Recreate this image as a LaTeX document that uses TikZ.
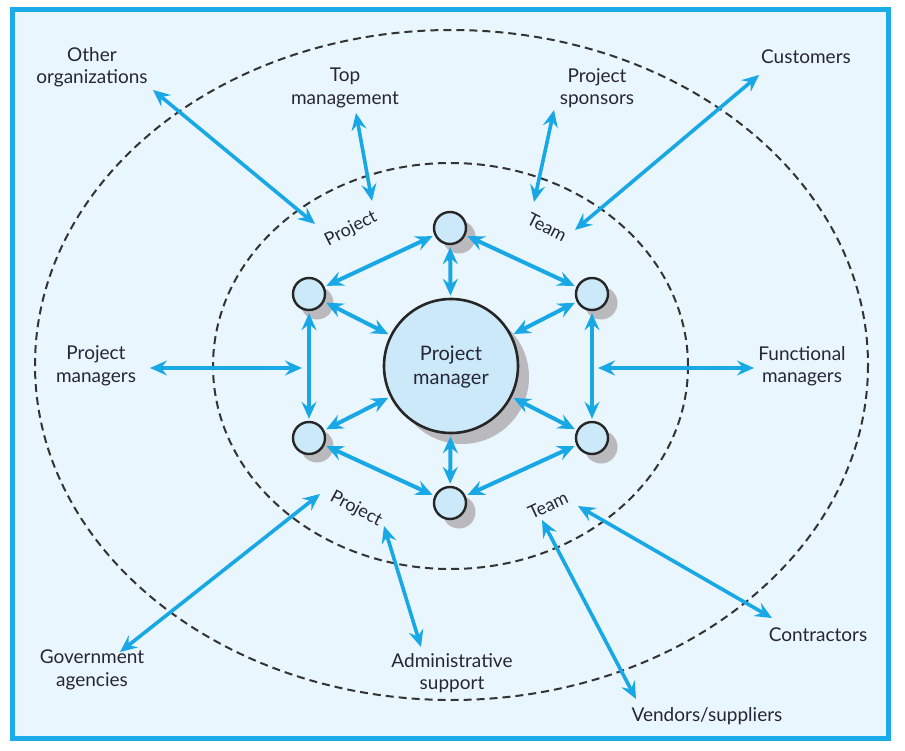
\documentclass[tikz,border=0pt]{standalone}
\usepackage{fontspec}
\setmainfont{Lato}
\usetikzlibrary{arrows.meta}
\definecolor{frameblue}{HTML}{1AABE8}
\definecolor{arrowblue}{HTML}{19A8E6}
\definecolor{bgblue}{HTML}{EAF6FD}
\definecolor{circfill}{HTML}{CBE9F9}
\definecolor{shadowgray}{HTML}{B9B9BE}
\definecolor{txt}{HTML}{262636}
\tikzset{
  arr/.style={draw=arrowblue, line width=4pt,
    {Stealth[length=17pt,width=15pt,inset=6pt]}-{Stealth[length=17pt,width=15pt,inset=6pt]},
    shorten <=2pt, shorten >=2pt},
  dash ring/.style={draw=black!80, line width=2pt, dash pattern=on 8pt off 5pt},
  small/.style={circle, draw=black!85, line width=2.4pt, fill=circfill, minimum size=32pt, inner sep=0pt},
  big/.style={circle, draw=black!85, line width=2.6pt, fill=circfill, minimum size=134pt, inner sep=0pt},
  lab/.style={text=txt, align=center, font=\fontsize{19}{22.5}\selectfont, inner sep=0pt},
  rlab/.style={text=txt, font=\fontsize{18}{20}\selectfont, inner sep=0pt},
}
\begin{document}
\begin{tikzpicture}[x=1pt,y=-1pt]
\useasboundingbox (0,0) rectangle (905,751);
\fill[white] (0,0) rectangle (905,751);
\draw[draw=frameblue, fill=bgblue, line width=5pt] (12,10) rectangle (888,738);
% rings
\draw[dash ring] (451.5,365) ellipse [x radius=416.5, y radius=335];
\draw[dash ring] (450.5,366) ellipse [x radius=237.5, y radius=203];
% shadows
\fill[shadowgray] (462,377) circle (67);
\foreach \p in {(459,237),(317,303),(601,303),(317,446),(601,447),(459,512)}
  \fill[shadowgray] \p circle (16.5);
% circles
\node[big] (c) at (451,366) {};
\node[lab, font=\fontsize{20}{24}\selectfont] at (451,367) {Project\\manager};
\node[small] (t)  at (450,228) {};
\node[small] (ul) at (309,294) {};
\node[small] (ur) at (592,294) {};
\node[small] (ll) at (309,438) {};
\node[small] (lr) at (592,438) {};
\node[small] (b)  at (450,503) {};
% hexagon connectors
\draw[arr] (t) -- (ul);
\draw[arr] (t) -- (ur);
\draw[arr] (t) -- (c);
\draw[arr] (ul) -- (c);
\draw[arr] (ur) -- (c);
\draw[arr] (ul) -- (ll);
\draw[arr] (ur) -- (lr);
\draw[arr] (ll) -- (c);
\draw[arr] (lr) -- (c);
\draw[arr] (ll) -- (b);
\draw[arr] (lr) -- (b);
\draw[arr] (b) -- (c);
% ring labels
\node[rlab, rotate=27] (pt) at (351,229) {Project};
\node[rlab, rotate=-27] (tt) at (547,227) {Team};
\node[rlab, rotate=-28] (pb) at (356,509) {Project};
\node[rlab, rotate=25] (tb) at (548,505) {Team};
% outer labels
\node[lab] (oo) at (92,67) {Other\\organizations};
\node[lab] (tm) at (345,88) {Top\\management};
\node[lab] (ps) at (597,88) {Project\\sponsors};
\node[lab] (cu) at (806,57) {Customers};
\node[lab] (pm) at (96,366) {Project\\managers};
\node[lab] (fm) at (802,366) {Functional\\managers};
\node[lab] (ga) at (92,670) {Government\\agencies};
\node[lab] (as) at (452,673) {Administrative\\support};
\node[lab] (co) at (818,635) {Contractors};
\node[lab] (vs) at (707,716) {Vendors/suppliers};
% arrow end points
\coordinate (oo1) at (153,90);  \coordinate (oo2) at (315,224);
\coordinate (tm1) at (356,113); \coordinate (tm2) at (372,201);
\coordinate (ps1) at (554,110); \coordinate (ps2) at (534,202);
\coordinate (cu1) at (759,75);  \coordinate (cu2) at (575,230);
\coordinate (pm1) at (150,368); \coordinate (pm2) at (302,368);
\coordinate (fm1) at (598,368); \coordinate (fm2) at (754,368);
\coordinate (ga1) at (120,652); \coordinate (ga2) at (320,494);
\coordinate (as1) at (384,526); \coordinate (as2) at (421,647);
\coordinate (vs1) at (542,520); \coordinate (vs2) at (636,699);
\coordinate (co1) at (578,506); \coordinate (co2) at (772,618);
\foreach \n in {oo,tm,ps,cu,pm,fm,ga,as,vs,co}
  \draw[arr, line width=3.6pt, shorten <=0pt, shorten >=0pt] (\n1) -- (\n2);
\end{tikzpicture}
\end{document}
